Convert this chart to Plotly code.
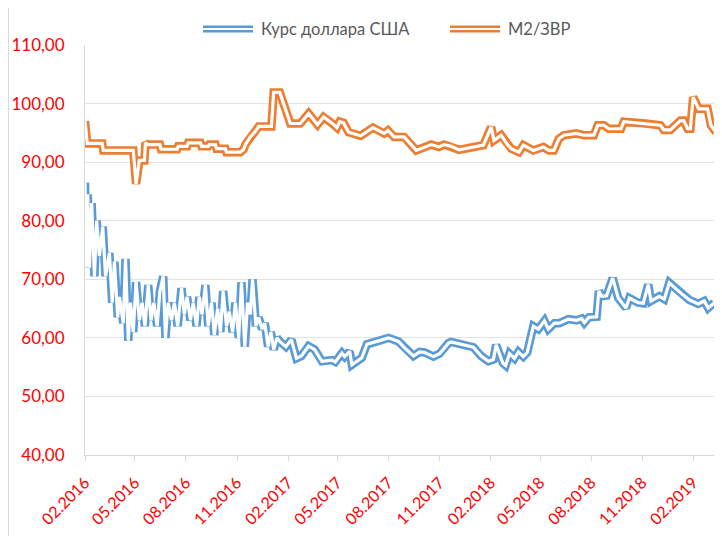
import plotly.graph_objects as go

# ---- data ----
usd_dates = [
    "2016-02-01", "2016-02-03", "2016-02-06", "2016-02-09", "2016-02-13", "2016-02-18", "2016-02-22",
    "2016-02-27", "2016-03-04", "2016-03-09", "2016-03-16", "2016-03-21", "2016-03-25", "2016-03-31",
    "2016-04-03", "2016-04-10", "2016-04-14", "2016-04-19", "2016-04-23", "2016-04-28", "2016-05-03",
    "2016-05-09", "2016-05-14", "2016-05-19", "2016-05-25", "2016-05-30", "2016-06-04", "2016-06-10",
    "2016-06-15", "2016-06-21", "2016-06-25", "2016-06-30", "2016-07-06", "2016-07-11", "2016-07-17",
    "2016-07-24", "2016-07-29", "2016-08-03", "2016-08-09", "2016-08-14", "2016-08-20", "2016-08-25",
    "2016-08-30", "2016-09-05", "2016-09-10", "2016-09-16", "2016-09-21", "2016-09-27", "2016-10-02",
    "2016-10-07", "2016-10-13", "2016-10-18", "2016-10-24", "2016-10-29", "2016-11-04", "2016-11-09",
    "2016-11-15", "2016-11-20", "2016-11-25", "2016-11-29", "2016-12-05", "2016-12-10", "2016-12-16",
    "2016-12-21", "2016-12-27", "2017-01-01", "2017-01-06", "2017-01-12", "2017-01-17", "2017-01-28",
    "2017-02-07", "2017-02-16", "2017-02-25", "2017-03-10", "2017-03-21", "2017-04-03", "2017-04-21",
    "2017-04-27", "2017-05-09", "2017-05-14", "2017-05-23", "2017-05-27", "2017-06-14", "2017-06-23",
    "2017-07-11", "2017-08-01", "2017-08-19", "2017-08-30", "2017-09-15", "2017-09-26", "2017-10-05",
    "2017-10-21", "2017-11-01", "2017-11-17", "2017-11-22", "2017-12-14", "2018-01-01", "2018-01-15",
    "2018-01-28", "2018-02-06", "2018-02-11", "2018-02-23", "2018-02-28", "2018-03-07", "2018-03-16",
    "2018-03-23", "2018-04-01", "2018-04-08", "2018-04-19", "2018-04-28", "2018-05-09", "2018-05-16",
    "2018-05-27", "2018-06-05", "2018-06-21", "2018-07-06", "2018-07-15", "2018-07-20", "2018-07-28",
    "2018-08-11", "2018-08-15", "2018-08-20", "2018-08-29", "2018-09-09", "2018-09-19", "2018-10-03",
    "2018-10-09", "2018-10-25", "2018-11-03", "2018-11-12", "2018-11-17", "2018-12-02", "2018-12-11",
    "2018-12-20", "2018-12-29", "2019-01-14", "2019-01-25", "2019-02-10", "2019-02-21", "2019-02-28",
    "2019-03-09", "2019-03-11",
]
usd_values = [
    86.5, 72.0, 84.5, 72.0, 83.0, 70.5, 80.0,
    74.0, 79.0, 70.5, 74.5, 66.0, 73.0, 63.5,
    67.0, 62.5, 73.5, 59.5, 66.0, 61.0, 69.5,
    63.0, 66.0, 62.0, 69.0, 63.0, 66.0, 62.0,
    68.0, 70.5, 60.0, 66.0, 63.0, 66.0, 62.0,
    68.5, 64.0, 67.0, 63.0, 66.0, 62.0, 67.0,
    64.0, 69.0, 62.0, 66.0, 60.5, 65.0, 61.0,
    68.0, 62.0, 64.5, 61.0, 66.0, 60.0, 69.5,
    58.5, 66.0, 64.0, 70.0, 62.0, 63.5, 61.5,
    62.5, 58.5, 61.0, 58.0, 60.0, 59.4, 58.5,
    59.7, 56.5, 56.9, 58.6, 58.0, 56.0, 56.2,
    55.9, 57.4, 56.8, 57.7, 55.4, 56.6, 58.9,
    59.4, 60.0, 59.4, 58.3, 56.9, 57.6, 57.5,
    56.8, 57.3, 59.1, 59.3, 58.8, 58.4, 56.9,
    56.0, 56.3, 58.8, 55.7, 55.3, 57.3, 56.5,
    57.6, 56.8, 57.5, 62.0, 61.5, 62.9, 61.5,
    62.5, 62.5, 63.2, 63.0, 63.3, 62.6, 63.5,
    63.6, 68.0, 67.1, 67.2, 70.2, 66.8, 65.1,
    66.8, 66.0, 65.9, 69.1, 66.3, 67.1, 66.6,
    69.4, 68.6, 67.3, 66.5, 65.8, 66.3, 65.1,
    65.8, 66.0,
]

m2_dates = [
    "2016-02-01", "2016-02-05", "2016-03-03", "2016-03-05", "2016-04-28", "2016-05-03", "2016-05-09",
    "2016-05-18", "2016-05-20", "2016-05-24", "2016-06-15", "2016-06-17", "2016-07-16", "2016-07-18",
    "2016-08-03", "2016-08-05", "2016-08-27", "2016-08-29", "2016-09-10", "2016-09-12", "2016-09-23",
    "2016-09-25", "2016-10-11", "2016-10-13", "2016-11-07", "2016-11-13", "2016-11-16", "2016-11-25",
    "2016-12-06", "2016-12-10", "2017-01-02", "2017-01-06", "2017-01-17", "2017-01-24", "2017-02-05",
    "2017-02-23", "2017-03-10", "2017-03-26", "2017-04-06", "2017-04-23", "2017-04-30", "2017-05-05",
    "2017-05-12", "2017-05-21", "2017-06-12", "2017-07-04", "2017-07-24", "2017-07-31", "2017-08-11",
    "2017-08-29", "2017-09-20", "2017-10-17", "2017-10-31", "2017-11-09", "2017-11-22", "2017-12-06",
    "2017-12-28", "2018-01-19", "2018-02-02", "2018-02-07", "2018-02-20", "2018-03-04", "2018-03-10",
    "2018-03-24", "2018-04-01", "2018-04-19", "2018-05-07", "2018-05-17", "2018-05-26", "2018-06-04",
    "2018-06-13", "2018-07-05", "2018-07-19", "2018-08-06", "2018-08-13", "2018-08-24", "2018-09-02",
    "2018-09-24", "2018-09-29", "2018-11-07", "2018-12-04", "2018-12-10", "2018-12-22", "2019-01-09",
    "2019-01-15", "2019-01-22", "2019-01-27", "2019-02-01", "2019-02-11", "2019-02-27", "2019-03-05",
    "2019-03-14",
]
m2_values = [
    97.0, 93.2, 93.2, 92.0, 92.0, 86.3, 90.3,
    90.3, 93.3, 93.0, 93.0, 92.2, 92.2, 92.7,
    92.7, 93.3, 93.3, 92.7, 92.7, 93.0, 93.0,
    92.3, 92.3, 91.7, 91.7, 92.2, 93.0, 94.3,
    95.5, 96.1, 96.1, 101.9, 101.9, 100.0, 96.6,
    96.6, 98.3, 96.4, 97.7, 96.5, 95.9, 96.9,
    96.7, 95.1, 94.5, 95.9, 94.9, 95.4, 94.3,
    94.3, 92.0, 93.0, 92.6, 93.0, 92.7, 92.1,
    92.5, 92.9, 96.0, 93.7, 94.6, 92.9, 92.3,
    91.7, 92.9, 92.0, 92.6, 92.0, 92.0, 94.0,
    94.6, 94.9, 94.6, 94.6, 96.3, 96.3, 95.7,
    95.7, 96.9, 96.6, 96.3, 95.5, 95.5, 97.1,
    97.1, 95.7, 95.7, 101.1, 99.1, 99.1, 96.3,
    95.1,
]

series_names = ["Курс доллара США", "М2/ЗВР"]
series_colors = ["#5b9bd5", "#ed7d31"]
y_ticks = [40, 50, 60, 70, 80, 90, 100, 110]

# ---- figure ----
fig = go.Figure()
OUTER_W = 8.5
INNER_W = 3.2
for (xs, ys), name, col in zip([(usd_dates, usd_values), (m2_dates, m2_values)], series_names, series_colors):
    fig.add_trace(go.Scatter(x=xs, y=ys, mode="lines", name=name,
                             line=dict(color=col, width=OUTER_W), showlegend=False, hoverinfo="skip"))
    fig.add_trace(go.Scatter(x=xs, y=ys, mode="lines",
                             line=dict(color="white", width=INNER_W), showlegend=False, hoverinfo="skip"))

# page has an 8px body margin: lay out in window pixels, then shift
OFF = 8
W, H = 722 - OFF, 536 - OFF
PL, PR, PT, PB = 85, 722, 45, 455      # plot area in window pixels
L, T = PL - OFF, PT - OFF
R = W - (PR - OFF)
B = H - (PB - OFF)
pw, ph = W - L - R, H - T - B


def px2paper(x, y):
    """window pixel -> paper coords"""
    return (x - PL) / pw, (PB - y) / ph


shapes = []
annotations = []
# custom legend (double line symbols + text)
legend_items = [(203, 253, 259), (450, 500, 506)]
for (x0, x1, tx), name, col in zip(legend_items, series_names, series_colors):
    px0, py = px2paper(x0, 29)
    px1, _ = px2paper(x1, 29)
    shapes.append(dict(type="line", xref="paper", yref="paper", x0=px0, x1=px1, y0=py, y1=py,
                       line=dict(color=col, width=7)))
    shapes.append(dict(type="line", xref="paper", yref="paper", x0=px0, x1=px1, y0=py, y1=py,
                       line=dict(color="white", width=2)))
    ptx, _ = px2paper(tx, 29)
    annotations.append(dict(text=name, xref="paper", yref="paper", x=ptx, y=py,
                            xanchor="left", yanchor="middle", showarrow=False,
                            font=dict(family="Lato, Noto Sans, sans-serif", size=16.5, color="#595959")))

# chart area left border line
bx, _ = px2paper(OFF + 0.5, 0)
_, by0 = px2paper(0, 536)
_, by1 = px2paper(0, OFF)
shapes.append(dict(type="line", xref="paper", yref="paper", x0=bx, x1=bx, y0=by0, y1=by1,
                   line=dict(color="#d9d9d9", width=1)))

fig.update_layout(
    width=W, height=H,
    margin=dict(l=L, r=R, t=T, b=B, pad=0, autoexpand=False),
    paper_bgcolor="white", plot_bgcolor="white",
    separators=", ",
    showlegend=False,
    shapes=shapes,
    annotations=annotations,
    font=dict(family="Lato, Noto Sans, sans-serif"),
    xaxis=dict(
        type="date",
        range=["2016-02-01", "2019-03-25"],
        tick0="2016-02-01", dtick="M3", tickformat="%m.%Y",
        tickangle=-45,
        tickfont=dict(size=16, color="#ff0000"),
        showgrid=False, zeroline=False,
        showline=True, linecolor="#d9d9d9", linewidth=1,
        ticks="outside", ticklen=5, tickcolor="#d9d9d9",
        ticklabelstandoff=6,
        automargin=False,
    ),
    yaxis=dict(
        range=[40, 110],
        tickvals=y_ticks, tickformat=".2f",
        tickfont=dict(size=17, color="#ff0000"),
        showgrid=True, gridcolor="#e3e3e3", gridwidth=1,
        zeroline=False,
        showline=True, linecolor="#d9d9d9", linewidth=1,
        ticks="", ticklabelstandoff=16,
        automargin=False,
    ),
    hovermode=False,
)

fig.write_html("out.html", config={"displayModeBar": False})
